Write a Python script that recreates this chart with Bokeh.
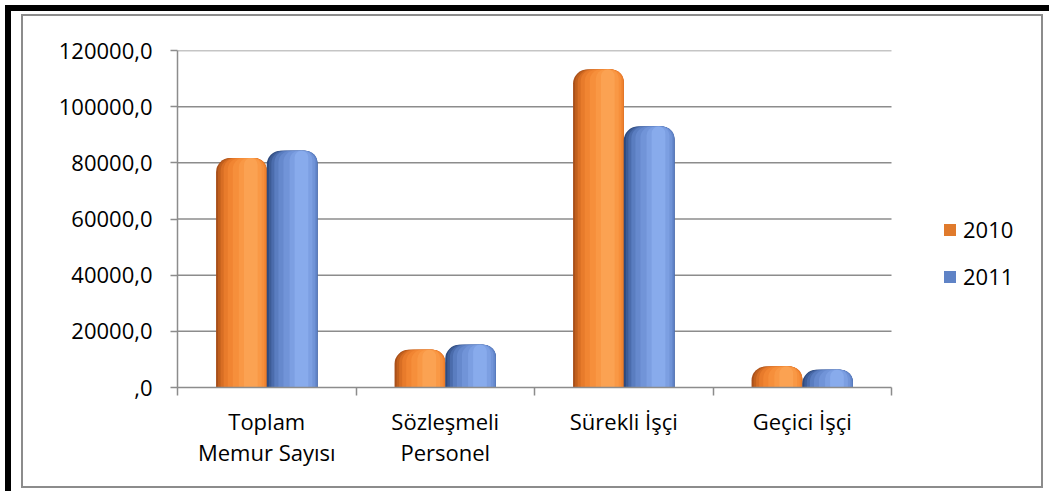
import numpy as np
from bokeh.plotting import figure
from bokeh.models import (Range1d, FixedTicker, LinearAxis, Legend, LegendItem,
                          ColumnDataSource, InlineStyleSheet)
from bokeh.embed import file_html
from bokeh.resources import INLINE

# ---------------- data ----------------
categories = ["Toplam\nMemur Sayısı", "Sözleşmeli\nPersonel", "Sürekli İşçi", "Geçici İşçi"]
series_names = ["2010", "2011"]
values_2010 = [81700, 13400, 113200, 7500]
values_2011 = [84300, 15200, 92900, 6300]
y_ticks = [0, 20000, 40000, 60000, 80000, 100000, 120000]
y_tick_labels = [",0", "20000,0", "40000,0", "60000,0", "80000,0", "100000,0", "120000,0"]

FONT = "Open Sans"
W, H = 1049, 491
n = len(categories)
PLOT_W = 714.0      # pixel width of the category area
FRAME_W = 863       # frame extends right to hold the legend
x_end = n * FRAME_W / PLOT_W

p = figure(width=W, height=H, output_backend="svg", toolbar_location=None,
           x_range=Range1d(0, x_end), y_range=Range1d(0, y_ticks[-1]),
           min_border_left=177, min_border_right=W - 177 - FRAME_W, min_border_top=50,
           min_border_bottom=104, x_axis_location=None, y_axis_location=None)
p.outline_line_color = None
p.background_fill_color = "white"
p.border_fill_color = "white"

# decorative frame (black corner band + grey chart-area border)
p.stylesheets = [InlineStyleSheet(css="""
:host { position: relative; }
:host::before { content: ""; position: absolute; left: 5px; top: 5px; width: 1044px; height: 486px;
  box-sizing: border-box; border-left: 6px solid black; border-top: 6px solid black;
  z-index: 10; pointer-events: none; }
:host::after { content: ""; position: absolute; left: 21px; top: 14px; width: 1022px; height: 474px;
  box-sizing: border-box; border: 2px solid #8c8c8c; z-index: 10; pointer-events: none; }
""")]

GREY = "#8c8c8c"

# y axis
yax = LinearAxis(ticker=FixedTicker(ticks=y_ticks),
                 major_label_overrides={t: l for t, l in zip(y_ticks, y_tick_labels)})
yax.axis_line_color = GREY
yax.axis_line_width = 1.5
yax.major_tick_line_color = GREY
yax.major_tick_line_width = 1.5
yax.major_tick_out = 7
yax.major_tick_in = 0
yax.minor_tick_line_color = None
yax.major_label_text_font = FONT
yax.major_label_text_font_size = "22px"
yax.major_label_text_color = "black"
yax.major_label_standoff = 18
p.add_layout(yax, "left")

# x axis: boundary ticks
bounds = list(range(n + 1))
centers = [i + 0.5 for i in range(n)]
xax = LinearAxis(ticker=FixedTicker(ticks=bounds), bounds=(0, n),
                 major_label_overrides={b: "" for b in bounds})
xax.axis_line_color = GREY
xax.axis_line_width = 1.5
xax.major_tick_line_color = GREY
xax.major_tick_line_width = 1.5
xax.major_tick_out = 8
xax.major_tick_in = 0
xax.minor_tick_line_color = None
xax.major_label_text_font_size = "1px"
xax.major_label_standoff = 0
p.add_layout(xax, "below")

lax = LinearAxis(ticker=FixedTicker(ticks=centers), bounds=(0, n),
                 major_label_overrides={c: l for c, l in zip(centers, categories)})
lax.axis_line_color = None
lax.major_tick_line_color = None
lax.minor_tick_line_color = None
lax.major_label_text_font = FONT
lax.major_label_text_font_size = "22px"
lax.major_label_text_color = "black"
lax.major_label_text_line_height = 1.05
lax.major_label_standoff = 4
p.add_layout(lax, "below")

# horizontal gridlines over the category area only
p.xgrid.grid_line_color = None
p.ygrid.grid_line_color = None
gsrc = ColumnDataSource(dict(y=y_ticks[1:], x0=[0] * (len(y_ticks) - 1),
                             x1=[n] * (len(y_ticks) - 1)))
p.segment(x0="x0", x1="x1", y0="y", y1="y", source=gsrc, line_color=GREY,
          line_width=1.5, level="underlay")

# ---------------- bars (layered to imitate the cylinder shading) ----------------
bw = 0.284
series = {"2010": values_2010, "2011": values_2011}
offsets = {"2010": -bw / 2, "2011": bw / 2}
bands = [(0.00, 1.00, 14), (0.04, 1.00, 13), (0.09, 1.00, 13), (0.15, 1.00, 12),
         (0.23, 0.98, 12), (0.33, 0.95, 11), (0.45, 0.90, 9), (0.55, 0.82, 7)]
palette = {
    "2010": ["#A9501A", "#C2601D", "#D86E24", "#E87B2B", "#F18532", "#F68F3B",
             "#F99845", "#FBA252"],
    "2011": ["#2E4A7E", "#3D5C96", "#4B6CAC", "#5A7DC0", "#6689CD", "#7194D8",
             "#7C9FE2", "#88ABEC"],
}
legend_colors = {"2010": "#E07A2C", "2011": "#5F83C6"}

for name in series_names:
    vals = series[name]
    for (a, b, r), col in zip(bands, palette[name]):
        xs = [c + offsets[name] - bw / 2 + (a + b) / 2 * bw for c in centers]
        src = ColumnDataSource(dict(x=xs, top=vals))
        p.vbar(x="x", top="top", bottom=0, width=(b - a) * bw, source=src,
               fill_color=col, line_color=None, border_radius=(r, r, 0, 0))

# legend proxies (non-drawing sources)
items = []
for name in series_names:
    rr = p.vbar(x=[np.nan], top=[np.nan], width=0.1, fill_color=legend_colors[name],
                line_color=None)
    items.append(LegendItem(label=name, renderers=[rr]))
legend = Legend(items=items, location=(765, 96), orientation="vertical")
legend.padding = 0
legend.margin = 0
legend.border_line_color = None
legend.background_fill_alpha = 0
legend.glyph_width = 15
legend.glyph_height = 15
legend.label_standoff = 6
legend.spacing = 17
legend.label_text_font = FONT
legend.label_text_font_size = "22px"
legend.label_text_color = "black"
p.add_layout(legend, "center")

open("out.html", "w").write(file_html(p, INLINE))
